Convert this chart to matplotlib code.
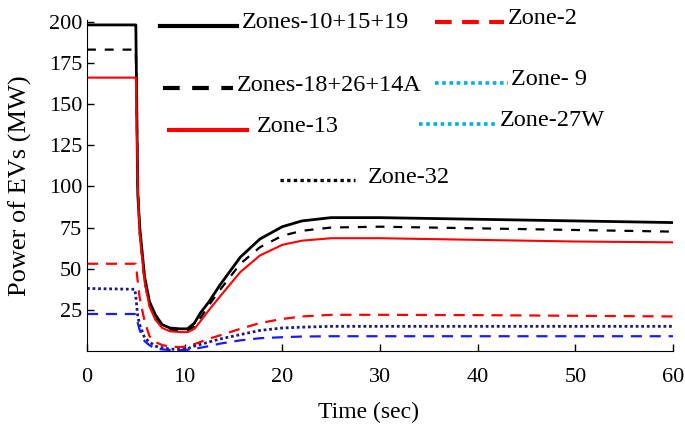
"""Power of EVs per zone during a load-shedding event (step at t~5 s, recovery after ~10 s)."""

import matplotlib
matplotlib.use("Agg")
import matplotlib.pyplot as plt

plt.rcParams["font.family"] = ["Liberation Serif", "DejaVu Serif"]

# time points (sec) shared by every series
time_s = [0, 4.9, 5.0, 5.2, 5.4, 5.9, 6.4, 7.0, 7.7, 8.5, 9.5, 10.3, 11.0, 11.6,
          12.5, 13.6, 15.7, 17.7, 20, 22, 25, 30, 40, 50, 60]

zones_10_15_19 = [198, 198, 198, 95, 75, 45, 30, 22, 16, 14, 13.5, 13.5, 17, 23,
                  30, 40, 57, 68, 75.5, 79, 81, 81, 80, 79, 78]
zones_18_26_14a = [183, 183, 183, 100, 72, 42, 28, 20, 15, 13, 12.5, 12.5, 15, 20,
                   28, 37, 53, 63, 70, 73, 75, 75.5, 74.5, 73.5, 72.5]
zone_13 = [166, 166, 166, 100, 70, 42, 27, 19, 14, 12, 11.5, 11.5, 13.5, 18,
           25, 33, 48, 58, 64.5, 67, 68.5, 68.5, 67.5, 66.5, 66]
zone_2 = [53, 53, 53, 42, 32, 18, 9, 5.5, 3.6, 2.8, 2.4, 2.8, 4.2, 5.5,
          7.5, 9.5, 13.5, 17, 19.5, 21, 22, 22, 21.8, 21.4, 21]
zone_32 = [38, 37.5, 33, 21, 16, 8, 5.5, 3, 2, 1.2, 1, 1.5, 3, 4,
           5.5, 7.3, 10, 12.5, 14, 14.5, 15, 15, 15, 15, 15]
zone_9 = [22.5, 22.5, 22, 17, 12.7, 6, 3.5, 1.5, 1, 0.6, 0.5, 0.8, 1.5, 2,
          3, 4.5, 6.5, 7.8, 8.4, 8.8, 9, 9, 9, 9, 9]

x_ticks = [0, 10, 20, 30, 40, 50, 60]
y_ticks = [25, 50, 75, 100, 125, 150, 175, 200]

# series: (values, colour, linestyle, linewidth)
SERIES = [
    (zones_10_15_19, "black", "-", 2.0),
    (zones_18_26_14a, "black", (0, (4, 4)), 1.6),
    (zone_13, "#ff0000", "-", 1.5),
    (zone_2, "#ff0000", (0, (5, 3.5)), 1.6),
    (zone_32, "#1a1a80", (0, (1, 1)), 2.0),
    (zone_9, "#1a1aff", (0, (5, 3.5)), 1.6),
]

# hand-placed legend: (x0, x1, y, colour, linestyle, lw, label, text_x, text_y)
LEGEND = [
    (7.5, 15.4, 197.6, "black", "-", 3.0, "Zones-10+15+19", 15.9, 199.5),
    (7.8, 14.9, 159.4, "black", (0, (4, 3)), 3.0, "Zones-18+26+14A", 15.3, 161.5),
    (8.4, 16.4, 134.5, "#ff0000", "-", 3.0, "Zone-13", 17.4, 136.5),
    (19.8, 27.4, 104.0, "black", (0, (1, 1)), 2.4, "Zone-32", 28.8, 105.5),
    (35.6, 42.7, 199.5, "#ff0000", (0, (4, 2.5)), 3.0, "Zone-2", 43.1, 202.0),
    (35.6, 43.1, 163.0, "#00aeef", (0, (1, 1)), 2.6, "Zone- 9", 43.4, 165.0),
    (34.0, 41.9, 137.6, "#00aeef", (0, (1, 1)), 2.6, "Zone-27W", 42.3, 140.0),
]


def main():
    fig = plt.figure(figsize=(6.85, 4.25), dpi=100)
    ax = fig.add_axes([0.127, 0.174, 0.8555, 0.779])

    for vals, col, ls, lw in SERIES:
        ax.plot(time_s, vals, color=col, linestyle=ls, lw=lw)

    for x0, x1, y, col, ls, lw, lab, tx, ty in LEGEND:
        ax.plot([x0, x1], [y, y], color=col, linestyle=ls, lw=lw, clip_on=False)
        ax.text(tx, ty, lab, fontsize=17.5, ha="left", va="center")

    ax.set_xlim(0, 60)
    ax.set_ylim(0, 201)
    ax.set_xticks(x_ticks)
    ax.set_yticks(y_ticks)
    ax.tick_params(direction="in", length=5, labelsize=16, width=1)
    ax.tick_params(axis="x", pad=12)
    ax.spines["top"].set_visible(False)
    ax.spines["right"].set_visible(False)
    ax.set_xlabel("Time (sec)", fontsize=17)
    ax.set_ylabel("Power of EVs (MW)", fontsize=19)
    ax.xaxis.set_label_coords(0.481, -0.155)
    ax.yaxis.set_label_coords(-0.094, 0.5)

    fig.savefig("out.png", dpi=100)


if __name__ == "__main__":
    main()
